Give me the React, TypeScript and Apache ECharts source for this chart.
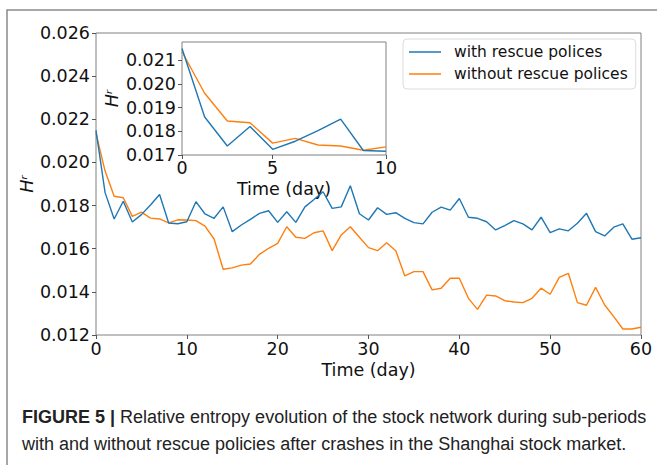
import React, { useEffect, useRef } from "react";
import * as echarts from "echarts";

const days = [
  0, 1, 2, 3, 4, 5, 6, 7, 8, 9, 10, 11, 12, 13, 14, 15, 16, 17, 18, 19, 20,
  21, 22, 23, 24, 25, 26, 27, 28, 29, 30, 31, 32, 33, 34, 35, 36, 37, 38, 39, 40,
  41, 42, 43, 44, 45, 46, 47, 48, 49, 50, 51, 52, 53, 54, 55, 56, 57, 58, 59, 60,
];

const withRescue = [
  0.02149, 0.0186, 0.01738, 0.0182, 0.01724, 0.01758, 0.01803, 0.01851, 0.01719, 0.01716,
  0.01725, 0.01818, 0.01761, 0.01741, 0.01794, 0.01679, 0.0171, 0.01736, 0.01764, 0.01776,
  0.01722, 0.01771, 0.01722, 0.01794, 0.01828, 0.01864, 0.01787, 0.01794, 0.01892, 0.01762,
  0.01733, 0.0179, 0.01759, 0.01767, 0.01741, 0.01721, 0.01715, 0.01769, 0.01793, 0.01779,
  0.01833, 0.01746, 0.01741, 0.01725, 0.01687, 0.01707, 0.0173, 0.01715, 0.01687, 0.01746,
  0.01675, 0.01692, 0.01683, 0.01718, 0.01764, 0.01679, 0.01659, 0.017, 0.01715, 0.01644,
  0.01651,
];

const withoutRescue = [
  0.02135, 0.0196, 0.01843, 0.01836, 0.0175, 0.0177, 0.01742, 0.01738, 0.0172, 0.01734,
  0.01733, 0.0173, 0.01705, 0.01645, 0.01505, 0.01511, 0.01524, 0.01529, 0.01574, 0.01602,
  0.01625, 0.01702, 0.01653, 0.01648, 0.01674, 0.01683, 0.01591, 0.01664, 0.01702, 0.01653,
  0.01605, 0.01591, 0.01628, 0.01591, 0.01474, 0.01494, 0.01494, 0.01409, 0.01417, 0.01463,
  0.01463, 0.0137, 0.01319, 0.01385, 0.01381, 0.01359, 0.01353, 0.0135, 0.0137, 0.01417,
  0.01389, 0.01467, 0.01486, 0.0135, 0.01338, 0.01421, 0.01339, 0.01285, 0.01228, 0.01228,
  0.01236,
];

const insetCount = 10;
const insetXTickPositions = [0, 4, 9];
const insetXTickLabels = ["0", "5", "10"];
const insetYTicks = [0.017, 0.018, 0.019, 0.02, 0.021];

const seriesNames = ["with rescue polices", "without rescue polices"];
const colors = ["#1f77b4", "#ff7f0e"];

const captionBold = "FIGURE 5 |";
const captionLine1 = " Relative entropy evolution of the stock network during sub-periods";
const captionLine2 = "with and without rescue policies after crashes in the Shanghai stock market.";

const FONT = "'DejaVu Sans', sans-serif";
const CAP_FONT = "'Liberation Sans', Arial, sans-serif";

export default function App() {
  const ref = useRef<HTMLDivElement>(null);

  useEffect(() => {
    if (!ref.current) return;
    const chart = echarts.init(ref.current, undefined, { renderer: "svg" });

    const mainA = days.map((d, i) => [d, withRescue[i]]);
    const mainB = days.map((d, i) => [d, withoutRescue[i]]);
    const insetA = mainA.slice(0, insetCount);
    const insetB = mainB.slice(0, insetCount);

    const frameColor = "#808080";
    const tickColor = "#555";
    const labelColor = "#111";

    const option: any = {
      animation: false,
      backgroundColor: "#fff",
      grid: [
        {
          left: 96,
          top: 33,
          width: 545,
          height: 302,
          show: true,
          borderColor: frameColor,
          borderWidth: 1,
          backgroundColor: "transparent",
          containLabel: false,
          outerBoundsMode: "none",
        },
        {
          left: 182,
          top: 42,
          width: 204,
          height: 113,
          show: true,
          borderColor: frameColor,
          borderWidth: 1,
          backgroundColor: "transparent",
          containLabel: false,
          outerBoundsMode: "none",
        },
      ],
      xAxis: [
        {
          type: "value",
          gridIndex: 0,
          min: 0,
          max: 60,
          interval: 10,
          name: "Time (day)",
          nameLocation: "middle",
          nameGap: 26,
          nameMoveOverlap: false,
          nameTextStyle: { fontFamily: FONT, fontSize: 17.5, color: labelColor, verticalAlign: "top" },
          axisLine: { show: false },
          axisTick: { show: true, length: 4, lineStyle: { color: tickColor } },
          axisLabel: { fontFamily: FONT, fontSize: 17.5, color: labelColor, margin: 5 },
          splitLine: { show: false },
        },
        {
          type: "value",
          gridIndex: 1,
          min: 0,
          max: insetCount - 1,
          name: "Time (day)",
          nameLocation: "middle",
          nameGap: 25,
          nameMoveOverlap: false,
          nameTextStyle: { fontFamily: FONT, fontSize: 17.5, color: labelColor, verticalAlign: "top" },
          axisLine: { show: false },
          axisTick: { show: true, length: 4, lineStyle: { color: tickColor }, customValues: insetXTickPositions },
          axisLabel: {
            fontFamily: FONT,
            fontSize: 17.5,
            color: labelColor,
            margin: 4,
            customValues: insetXTickPositions,
            formatter: (v: number) => {
              const k = insetXTickPositions.indexOf(Math.round(v));
              return k >= 0 ? insetXTickLabels[k] : "";
            },
          },
          splitLine: { show: false },
        },
      ],
      yAxis: [
        {
          type: "value",
          gridIndex: 0,
          min: 0.012,
          max: 0.026,
          interval: 0.002,
          name: "Hʳ",
          nameLocation: "middle",
          nameGap: 69,
          nameMoveOverlap: false,
          nameTextStyle: {
            fontFamily: FONT,
            fontSize: 17.5,
            fontStyle: "italic",
            color: labelColor,
            align: "center",
            verticalAlign: "middle",
          },
          axisLine: { show: false },
          axisTick: { show: true, length: 4, lineStyle: { color: tickColor } },
          axisLabel: {
            fontFamily: FONT,
            fontSize: 17.5,
            color: labelColor,
            margin: 6,
            formatter: (v: number) => v.toFixed(3),
          },
          splitLine: { show: false },
        },
        {
          type: "value",
          gridIndex: 1,
          min: 0.017,
          max: 0.02176,
          name: "Hʳ",
          nameLocation: "middle",
          nameGap: 70,
          nameMoveOverlap: false,
          nameTextStyle: {
            fontFamily: FONT,
            fontSize: 17.5,
            fontStyle: "italic",
            color: labelColor,
            align: "center",
            verticalAlign: "middle",
          },
          axisLine: { show: false },
          axisTick: { show: true, length: 4, lineStyle: { color: tickColor }, customValues: insetYTicks },
          axisLabel: {
            fontFamily: FONT,
            fontSize: 17.5,
            color: labelColor,
            margin: 6,
            customValues: insetYTicks,
            formatter: (v: number) => v.toFixed(3),
          },
          splitLine: { show: false },
        },
      ],
      legend: {
        left: 403,
        top: 39,
        orient: "vertical",
        data: seriesNames.map((n) => ({ name: n, icon: "rect" })),
        itemWidth: 32,
        itemHeight: 1.5,
        itemGap: 6,
        padding: [5, 8, 7, 6],
        backgroundColor: "#fff",
        borderColor: "#dcdcdc",
        borderWidth: 1,
        borderRadius: 4,
        textStyle: {
          fontFamily: FONT,
          fontSize: 15.5,
          color: labelColor,
          lineHeight: 16,
          padding: [0, 0, 0, 8],
        },
      },
      series: [
        {
          name: seriesNames[0],
          type: "line",
          xAxisIndex: 0,
          yAxisIndex: 0,
          data: mainA,
          symbol: "none",
          showSymbol: false,
          color: colors[0],
          lineStyle: { color: colors[0], width: 1.4 },
          z: 2,
        },
        {
          name: seriesNames[1],
          type: "line",
          xAxisIndex: 0,
          yAxisIndex: 0,
          data: mainB,
          symbol: "none",
          showSymbol: false,
          color: colors[1],
          lineStyle: { color: colors[1], width: 1.4 },
          z: 1,
        },
        {
          name: seriesNames[0],
          type: "line",
          xAxisIndex: 1,
          yAxisIndex: 1,
          data: insetA,
          symbol: "none",
          showSymbol: false,
          color: colors[0],
          lineStyle: { color: colors[0], width: 1.4 },
          z: 2,
        },
        {
          name: seriesNames[1],
          type: "line",
          xAxisIndex: 1,
          yAxisIndex: 1,
          data: insetB,
          symbol: "none",
          showSymbol: false,
          color: colors[1],
          lineStyle: { color: colors[1], width: 1.4 },
          z: 1,
        },
      ],
      graphic: [
        {
          type: "rect",
          shape: { x: 7, y: 10, width: 700, height: 500 },
          style: { fill: "none", stroke: "#8a8a8a", lineWidth: 1.5 },
          silent: true,
          z: 0,
        },
        {
          type: "text",
          x: 22,
          y: 408,
          style: {
            text: "{b|" + captionBold + "}" + captionLine1,
            fontFamily: CAP_FONT,
            fontSize: 18,
            fill: "#222",
            rich: {
              b: { fontFamily: CAP_FONT, fontSize: 18, fontWeight: "bold", fill: "#222" },
            },
          },
        },
        {
          type: "text",
          x: 22,
          y: 435,
          style: {
            text: captionLine2,
            fontFamily: CAP_FONT,
            fontSize: 18,
            fill: "#222",
          },
        },
      ],
    };

    chart.setOption(option);
    return () => chart.dispose();
  }, []);

  return (
    <div
      ref={ref}
      style={{ position: "fixed", left: 0, top: 0, width: 657, height: 465, background: "#fff" }}
    />
  );
}
